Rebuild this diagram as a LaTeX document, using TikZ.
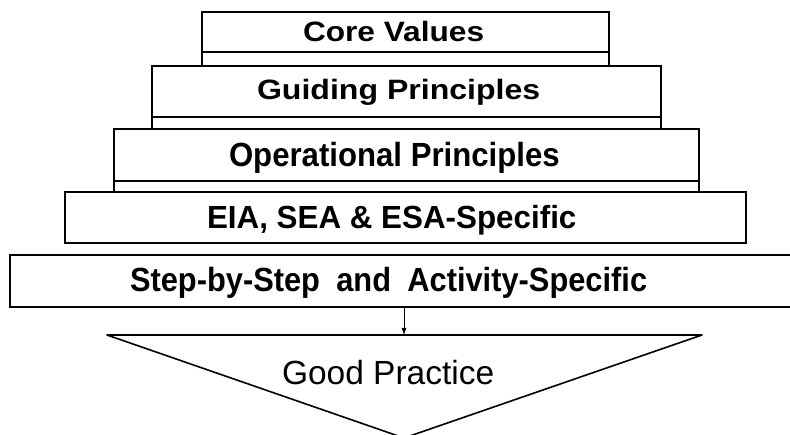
\documentclass[tikz,border=0pt]{standalone}
\usepackage{graphicx}
\usepackage{fontspec}
\setmainfont{Liberation Sans}
\usetikzlibrary{arrows.meta}
\begin{document}
\begin{tikzpicture}[x=1pt,y=-1pt,
  box/.style={draw, line width=2.4pt, inner sep=0pt, outer sep=0pt},
  stub/.style={line width=2.4pt},
  stepline/.style={line width=1.6pt},
  lbl/.style={anchor=base west, inner sep=0pt, outer sep=0pt},
  arr/.style={line width=0.8pt, -{Latex[length=7pt,width=5pt]}}]
\useasboundingbox (0,0) rectangle (790,435);
\begin{scope}
\clip (0,0) rectangle (790,435);
% boxes
\node[box, minimum width=407pt, minimum height=40pt] (core) at (405.5,32) {};
\node[box, minimum width=509pt, minimum height=51pt] (guide) at (406.5,91.5) {};
\node[box, minimum width=585pt, minimum height=52pt] (oper) at (406.5,155) {};
\node[box, minimum width=681pt, minimum height=51pt] (eia) at (405.5,217.5) {};
\node[draw, stepline, inner sep=0pt, outer sep=0pt, minimum width=800pt, minimum height=52pt] (stepbox) at (410,281) {};
% stubs
\draw[stub] (core.south west) -- (core.south west |- guide.north);
\draw[stub] (core.south east) -- (core.south east |- guide.north);
\draw[stub] (guide.south west) -- (guide.south west |- oper.north);
\draw[stub] (guide.south east) -- (guide.south east |- oper.north);
\draw[stub] (oper.south west) -- (oper.south west |- eia.north);
\draw[stub] (oper.south east) -- (oper.south east |- eia.north);
% triangle
\coordinate (tl) at (107,335);
\coordinate (tr) at (702,335);
\coordinate (tb) at (404,438);
\coordinate (ttop) at (404,335);
\draw[stepline, line join=round] (tl) -- (tr) -- (tb) -- cycle;
% arrow
\draw[arr] (stepbox.south -| ttop) -- (ttop);
\end{scope}
% labels
\node[lbl] (tcore) at (303,42) {\scalebox{1.13}[1]{\fontsize{28}{28}\selectfont\bfseries Core Values}};
\node[lbl] (tguide) at (257,100) {\scalebox{1.145}[1]{\fontsize{28}{28}\selectfont\bfseries Guiding Principles}};
\node[lbl] (toper) at (229,167) {\scalebox{0.93}[1]{\fontsize{33.5}{33.5}\selectfont\bfseries Operational Principles}};
\node[lbl] (teia) at (207,229) {\scalebox{0.98}[1]{\fontsize{32}{32}\selectfont\bfseries EIA, SEA \& ESA-Specific}};
\node[lbl] (tstep) at (130,292) {\scalebox{0.92}[1]{\fontsize{33.5}{33.5}\selectfont\bfseries Step-by-Step\hspace{0.25em} and\hspace{0.25em} Activity-Specific}};
\node[lbl] (tgood) at (282,385) {\fontsize{33.5}{33.5}\selectfont Good Practice};
\end{tikzpicture}
\end{document}
